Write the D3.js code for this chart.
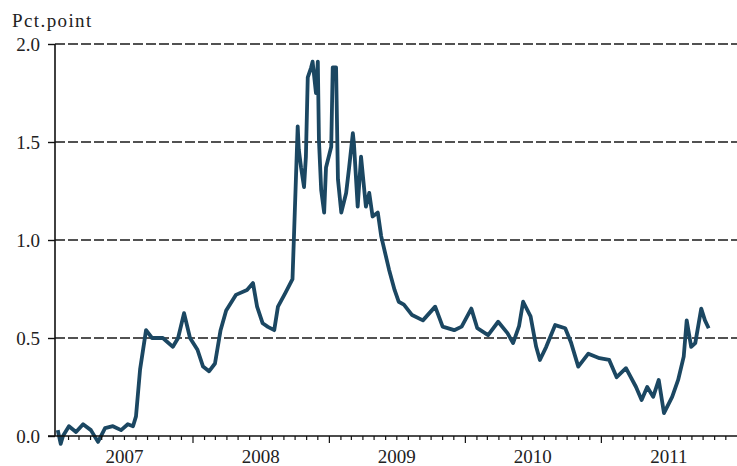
<!DOCTYPE html>
<html>
<head>
<meta charset="utf-8">
<script src="https://cdn.jsdelivr.net/npm/d3@7"></script>
<style>
  body { margin: 0; background: #fff; }
  svg { display: block; }
  text { font-family: "Liberation Serif", "Times New Roman", serif; fill: #222; }
</style>
</head>
<body>
<svg width="737" height="466"></svg>
<script>
// dates and spread (pct. points)
const dates = [
  '2007-01-03','2007-01-11','2007-01-17','2007-02-02','2007-02-21','2007-03-12','2007-04-02',
  '2007-04-21','2007-05-10','2007-05-31','2007-06-22','2007-07-10','2007-07-24','2007-08-01',
  '2007-08-12','2007-08-28','2007-09-13','2007-10-12','2007-11-08','2007-11-22','2007-12-08',
  '2007-12-24','2008-01-13','2008-01-28','2008-02-13','2008-02-29','2008-03-15','2008-03-30',
  '2008-04-25','2008-05-25','2008-06-10','2008-06-21','2008-07-06','2008-07-20','2008-08-06',
  '2008-08-16','2008-09-05','2008-09-24','2008-09-28','2008-10-08','2008-10-11','2008-10-17',
  '2008-10-25','2008-10-30','2008-11-04','2008-11-13','2008-11-17','2008-11-26','2008-12-01',
  '2008-12-04','2008-12-10','2008-12-18','2008-12-23','2009-01-06','2009-01-10','2009-01-19',
  '2009-01-24','2009-02-02','2009-02-15','2009-02-23','2009-03-05','2009-03-08','2009-03-18',
  '2009-03-27','2009-04-09','2009-04-18','2009-04-27','2009-05-11','2009-05-20','2009-06-10',
  '2009-06-25','2009-07-06','2009-07-20','2009-08-11','2009-09-09','2009-10-12','2009-11-01',
  '2009-12-02','2009-12-22','2010-01-17','2010-02-02','2010-03-03','2010-03-30','2010-04-24',
  '2010-05-09','2010-05-25','2010-06-05','2010-06-25','2010-07-10','2010-07-20','2010-08-06',
  '2010-08-30','2010-09-26','2010-10-11','2010-10-31','2010-11-27','2010-12-27','2011-01-22',
  '2011-02-11','2011-03-08','2011-04-04','2011-04-19','2011-05-04','2011-05-20','2011-06-04',
  '2011-06-18','2011-07-10','2011-07-26','2011-08-10','2011-08-18','2011-08-30','2011-09-10',
  '2011-09-26','2011-10-06','2011-10-16'
];
const spread = [
  0.03,-0.04,0.0,0.05,0.02,0.06,0.03,
  -0.03,0.04,0.05,0.03,0.06,0.05,0.10,
  0.34,0.54,0.50,0.50,0.455,0.50,0.627,
  0.50,0.44,0.354,0.33,0.37,0.54,0.64,
  0.72,0.745,0.78,0.66,0.575,0.557,0.54,
  0.66,0.73,0.80,1.02,1.58,1.46,1.37,
  1.27,1.425,1.83,1.88,1.91,1.75,1.91,
  1.51,1.255,1.14,1.37,1.476,1.88,1.88,
  1.31,1.14,1.24,1.37,1.545,1.49,1.17,
  1.425,1.17,1.24,1.12,1.14,1.02,0.85,
  0.745,0.685,0.67,0.617,0.59,0.66,0.558,
  0.54,0.558,0.65,0.55,0.515,0.583,0.525,
  0.474,0.56,0.685,0.61,0.455,0.388,0.455,
  0.566,0.55,0.48,0.354,0.42,0.397,0.388,
  0.30,0.346,0.25,0.184,0.25,0.20,0.286,
  0.117,0.20,0.286,0.405,0.59,0.455,0.474,
  0.65,0.59,0.55
];
const yTicks = [0, 0.5, 1.0, 1.5, 2.0];
const yearLabels = [2007, 2008, 2009, 2010, 2011];
const yUnit = 'Pct.point';

const svg = d3.select('svg');
const parse = d3.timeParse('%Y-%m-%d');
const data = dates.map((d, i) => ({date: parse(d), value: spread[i]}));

const mLeft = 55, mRight = 737, mTop = 44, mBottom = 436;

const x = d3.scaleTime()
    .domain([new Date(2007, 0, 1), new Date(2011, 11, 31)])
    .range([57, mRight]);
const y = d3.scaleLinear().domain([0, 2]).range([mBottom, mTop]);

// dashed gridlines
svg.append('g')
  .selectAll('line')
  .data(yTicks.filter(d => d > 0))
  .enter().append('line')
    .attr('x1', mLeft).attr('x2', mRight)
    .attr('y1', d => y(d)).attr('y2', d => y(d))
    .attr('stroke', '#1a1a1a')
    .attr('stroke-width', 1.7)
    .attr('stroke-dasharray', '10,3');

// the series
const line = d3.line()
    .x(d => x(d.date))
    .y(d => y(d.value));

svg.append('path')
    .datum(data)
    .attr('fill', 'none')
    .attr('stroke', '#1b4762')
    .attr('stroke-width', 3.8)
    .attr('stroke-linejoin', 'round')
    .attr('d', line);

// y axis
const yAxis = svg.append('g')
    .attr('transform', `translate(${mLeft},0)`)
    .call(d3.axisLeft(y).tickValues(yTicks).tickFormat(d3.format('.1f')).tickSize(7).tickPadding(8));
yAxis.select('.domain').attr('stroke', '#111').attr('stroke-width', 1.6).attr('d', `M0,${mBottom}V${mTop}`);
yAxis.selectAll('.tick line').attr('stroke', '#111').attr('stroke-width', 1.4);
yAxis.selectAll('.tick text')
    .attr('font-size', 19)
    .attr('font-family', '"Liberation Serif", serif')
    .attr('fill', '#222');

// x axis: monthly ticks, longer at year starts, labels mid-year
const xAxisG = svg.append('g').attr('transform', `translate(0,${mBottom})`);
xAxisG.append('line')
    .attr('x1', mLeft - 7).attr('x2', mRight)
    .attr('stroke', '#111').attr('stroke-width', 1.6);

const months = d3.timeMonth.range(new Date(2007, 1, 1), new Date(2011, 11, 31));
xAxisG.selectAll('.mtick')
  .data(months)
  .enter().append('line')
    .attr('x1', d => x(d)).attr('x2', d => x(d))
    .attr('y1', 0)
    .attr('y2', d => d.getMonth() === 0 ? 7 : 4)
    .attr('stroke', '#111').attr('stroke-width', 1.2);

xAxisG.selectAll('.ylabel')
  .data(yearLabels)
  .enter().append('text')
    .attr('x', d => x(new Date(d, 6, 1)))
    .attr('y', 27)
    .attr('text-anchor', 'middle')
    .attr('font-size', 19)
    .text(d => d);

// unit label
svg.append('text')
    .attr('x', 12).attr('y', 27)
    .attr('font-size', 19)
    .attr('letter-spacing', 1.4)
    .text(yUnit);
</script>
</body>
</html>
